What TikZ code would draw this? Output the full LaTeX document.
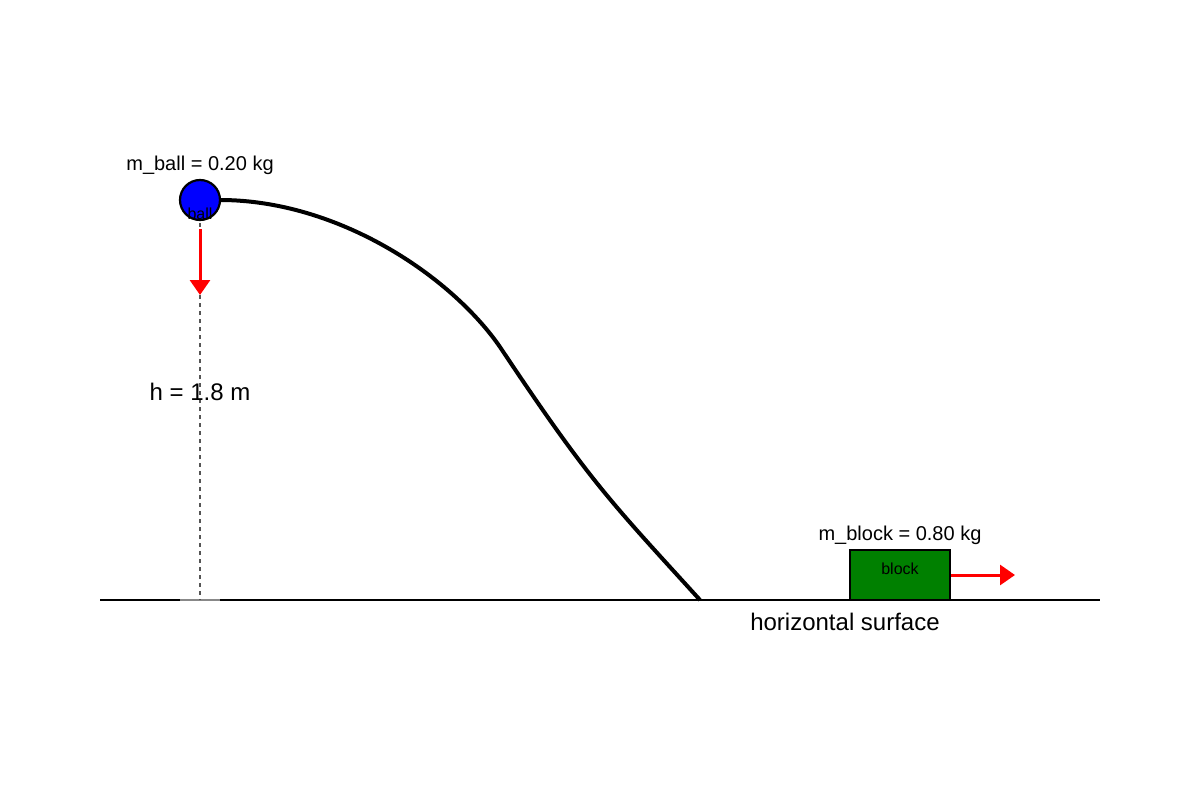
\documentclass[tikz,border=0pt]{standalone}
\usepackage{fontspec}
\setmainfont{Liberation Sans}
\usetikzlibrary{arrows.meta}
\definecolor{blockgreen}{HTML}{008000}
\definecolor{dashgray}{HTML}{555555}
\definecolor{basegray}{HTML}{888888}
\tikzset{
  lbl/.style={anchor=base, inner sep=0pt, font=\fontsize{20}{24}\selectfont},
  biglbl/.style={anchor=base, inner sep=0pt, font=\fontsize{24}{28}\selectfont},
  smalllbl/.style={anchor=base, inner sep=0pt, font=\fontsize{16}{19}\selectfont},
  force/.style={draw=red, line width=3pt, -{Triangle[length=15pt,width=20pt]}},
}
\begin{document}
\begin{tikzpicture}[x=1pt,y=-1pt]
\useasboundingbox (0,0) rectangle (1200,800);
% ground
\coordinate (gL) at (100,600);
\coordinate (gR) at (1100,600);
\draw[line width=2.5pt] (gL) -- (gR);
\coordinate (hb1) at (180,600);
\coordinate (hb2) at (220,600);
\draw[basegray, line width=2.5pt] (hb1) -- (hb2);
% height dashed line
\coordinate (htop) at (200,215);
\coordinate (hbot) at (200,600);
\draw[dashgray, line width=2pt, dash pattern=on 4pt off 4pt] (htop) -- (hbot);
% track curve
\coordinate (c0) at (220,200);
\coordinate (c1) at (500,347);
\coordinate (c2) at (700,600);
\draw[line width=4pt] (c0) .. controls (338,200) and (451,276) .. (c1)
  .. controls (590,482) and (610,501) .. (c2);
% ball
\node[circle, draw=black, fill=blue, line width=2.2pt, minimum size=40pt, inner sep=0pt] (ball) at (200,200) {};
\node[smalllbl] (balltxt) at (200,219) {ball};
\node[lbl] (mball) at (200,170) {m\_ball = 0.20 kg};
% ball force
\coordinate (fa1) at (200,229);
\coordinate (fa2) at (200,295);
\draw[force] (fa1) -- (fa2);
\node[biglbl] (hlbl) at (200,400) {h = 1.8 m};
% block
\node[draw=black, fill=blockgreen, line width=2.2pt, minimum width=100pt, minimum height=50pt, inner sep=0pt] (block) at (900,575) {};
\node[smalllbl] (blocktxt) at (900,574) {block};
\node[lbl] (mblock) at (900,540) {m\_block = 0.80 kg};
\coordinate (fb2) at (1015,575);
\draw[force] (block.east) -- (fb2);
\node[biglbl] (surf) at (845,630) {horizontal surface};
\end{tikzpicture}
\end{document}
